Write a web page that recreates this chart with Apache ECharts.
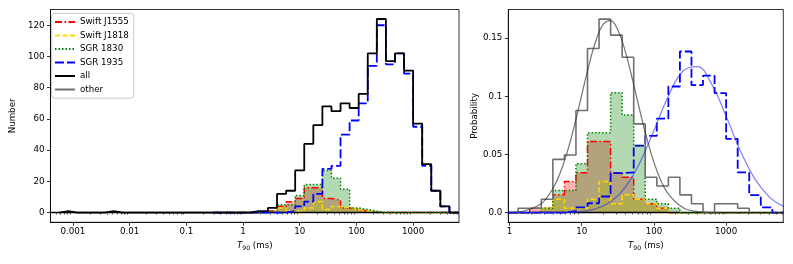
<!DOCTYPE html>
<html><head><meta charset="utf-8">
<script src="https://cdn.jsdelivr.net/npm/echarts@6/dist/echarts.min.js"></script>
<style>html,body{margin:0;padding:0;background:#fff}#c{width:793px;height:264px}</style>
</head><body><div id="c"></div>
<script>
// ---------- DATA ----------
// bin edges, log10(T90 / ms), "all" histogram (left panel)
const edgesAll = [-3.24,-3.08,-2.92,-2.76,-2.60,-2.44,-2.28,-2.12,-1.96,-1.80,-1.64,-1.48,-1.32,-1.16,-1.00,-0.84,-0.68,-0.52,-0.36,-0.20,-0.04,0.12,0.28,0.44,0.60,0.76,0.92,1.08,1.24,1.40,1.56,1.72,1.88,2.04,2.20,2.36,2.52,2.68,2.84,3.00,3.16,3.32,3.48,3.64,3.80];
const countsAll = [1,0,0,0,0,1,0,0,0,0,0,0,0,0,0,0,0,0,0,0,0,1,1,3,12,14,27,44,56,68,65,70,67,76,102,124,97,102,91,57,31,14,4,0];
// bin edges for the individual sources, log10(T90 / ms)
const edges = [-0.52,-0.36,-0.20,-0.04,0.12,0.28,0.44,0.60,0.76,0.92,1.08,1.24,1.40,1.56,1.72,1.88,2.04,2.20,2.36,2.52,2.68,2.84,3.00,3.16,3.32,3.48,3.64,3.80];
// left panel: numbers
const countsJ1555 = [0,0,0,0,0,1,1,4,7,9,16,16,9,8,3,2,1,0,0,0,0,0,0,0,0,0,0];
const countsJ1818 = [0,0,0,0,0,0,1,3,1,1,3,7,2,4,3,2,1,0,0,0,0,0,0,0,0,0,0];
const counts1830  = [0,0,0,0,0,0,1,5,5,11,18,18,27,22,15,3,2,1,0,0,0,0,0,0,0,0,0];
const counts1935  = [0,0,0,0,0,0,0,0,1,4,7,12,28,30,50,59,70,94,120,95,102,89,55,30,14,4,0];
// right panel: probabilities
const probJ1555 = [0,0,0,0,0,0.0038,0.0038,0.0153,0.0267,0.0344,0.0611,0.0611,0.0344,0.0305,0.0115,0.0076,0.0038,0,0,0,0,0,0,0,0,0,0];
const probJ1818 = [0,0,0,0,0,0,0.0038,0.0115,0.0038,0.0038,0.0115,0.0267,0.0076,0.0153,0.0115,0.0076,0.0038,0,0,0,0,0,0,0,0,0,0];
const prob1830  = [0,0,0,0,0,0,0.0038,0.0191,0.0191,0.0420,0.0687,0.0687,0.1031,0.0840,0.0573,0.0115,0.0076,0.0038,0,0,0,0,0,0,0,0,0];
const prob1935  = [0,0,0,0,0,0,0,0,0.0012,0.0046,0.0081,0.0139,0.0340,0.0346,0.0577,0.0660,0.0808,0.1085,0.1386,0.1097,0.1178,0.1028,0.0635,0.0346,0.0150,0.0046,0];
const probOther = [null,null,null,null,0.0038,0.0038,0.0115,0.0458,0.0496,0.0878,0.1412,0.1664,0.1527,0.1336,0.0763,0.0305,0.0229,0.0305,0.0153,0.0076,0,0.0076,0.0076,0.0038,null,null,null];
// fitted curves (right panel), sampled: log10(T90) and probability
const fitOtherX = [0.0,0.2,0.4,0.5,0.6,0.7,0.8,0.9,1.0,1.1,1.2,1.3,1.4,1.5,1.6,1.7,1.8,1.9,2.0,2.1,2.2,2.4,2.6,2.8,3.0,3.4,3.8];
const fitOtherY = [0.0002,0.0014,0.0061,0.0115,0.0205,0.0339,0.0522,0.0753,0.1012,0.1269,0.1485,0.1621,0.1652,0.1571,0.1394,0.1153,0.0890,0.0642,0.0432,0.0271,0.0159,0.0044,0.0009,0.0001,0,0,0];
const fit1935X = [0.0,0.2,0.4,0.6,0.8,1.0,1.2,1.4,1.6,1.8,2.0,2.2,2.4,2.6,2.8,3.0,3.2,3.4,3.6,3.8];
const fit1935Y = [0,0,0,0.0001,0.0003,0.0011,0.0035,0.0094,0.0216,0.0423,0.0706,0.1004,0.1216,0.1256,0.1105,0.0829,0.0529,0.0288,0.0134,0.0053];
// ticks
const leftXTicks = [-3,-2,-1,0,1,2,3];
const leftXTickLabels = ['0.001','0.01','0.1','1','10','100','1000'];
const rightXTicks = [0,1,2,3];
const rightXTickLabels = ['1','10','100','1000'];
const leftYTicks = [0,20,40,60,80,100,120];
const rightYTicks = [0,0.05,0.1,0.15];
const rightYTickLabels = ['0.0','0.05','0.1','0.15'];
const legendNames = ['Swift J1555','Swift J1818','SGR 1830','SGR 1935','all','other'];

// ---------- helpers ----------
function stepPts(ed, vals){
  let s = 0, e = vals.length - 1;
  while (vals[s] == null) s++;
  while (vals[e] == null) e--;
  const pts = [[ed[s], 0]];
  for (let i = s; i <= e; i++){ pts.push([ed[i], vals[i]]); pts.push([ed[i+1], vals[i]]); }
  pts.push([ed[e+1], 0]);
  return pts;
}
function minorTicks(lo, hi){
  const out = [];
  for (let n = -5; n <= 4; n++) for (let k = 2; k <= 9; k++){
    const v = Math.log10(k) + n; if (v > lo && v < hi) out.push(v);
  }
  return out;
}
const FONT = 'DejaVu Sans';
const FS = 8.7;
const L = {min:-3.395, max:3.809};
const R = {min:-0.017, max:3.792};

const C = {red:'#ff0000', gold:'#ffd700', green:'#008000', blue:'#0000ff', black:'#000000', grey:'#707070'};
const styles = {
  'Swift J1555': {color:C.red, type:[7,2.5,1.5,2.5], width:1.5, fill:true},
  'Swift J1818': {color:C.gold, type:[5,2.5], width:1.5, fill:true},
  'SGR 1830': {color:C.green, type:[1.5,2], width:1.5, fill:true},
  'SGR 1935': {color:C.blue, type:[9,3], width:1.8, fill:false},
  'all': {color:C.black, type:'solid', width:1.8, fill:false},
  'other': {color:C.grey, type:'solid', width:1.6, fill:false}
};
function histFill(name, ed, vals, gi, z){
  const st = styles[name];
  return {type:'line', name:name+' (fill)', xAxisIndex: gi*2, yAxisIndex: gi, data: stepPts(ed, vals),
    symbol:'none', showSymbol:false, z, silent:true,
    lineStyle:{width:0, opacity:0}, areaStyle:{color:st.color, opacity:0.3}};
}
function hist(name, ed, vals, gi, z){
  const st = styles[name];
  return {
    type:'line', name, xAxisIndex: gi*2, yAxisIndex: gi, data: stepPts(ed, vals),
    symbol:'none', showSymbol:false, z, silent:true,
    lineStyle:{color:st.color, type:st.type, width:st.width},
    itemStyle:{color:st.color}
  };
}
function curve(xs, ys, color, gi, z){
  return {type:'line', name:'fit'+z, xAxisIndex:gi*2, yAxisIndex:gi, data: xs.map((x,i)=>[x, ys[i]]),
    symbol:'none', smooth:0.4, silent:true, z, lineStyle:{color, width:1.2}};
}
function baseline(gi){
  return {type:'line', name:'base'+gi, xAxisIndex:gi*2, yAxisIndex:gi, data:[], z:1, silent:true,
    markLine:{silent:true, symbol:'none', label:{show:false}, data:[{yAxis:0}],
      lineStyle:{color:'#000', type:'solid', width:1.3}, animation:false}};
}
const rxName = {
  name:'{i|T}{s|90}{t| (ms)}', nameLocation:'middle', nameGap:17,
  nameTextStyle:{rich:{
    i:{fontFamily:FONT, fontSize:FS, fontStyle:'italic', color:'#000', verticalAlign:'top', lineHeight:12},
    s:{fontFamily:FONT, fontSize:6.2, color:'#000', verticalAlign:'top', lineHeight:12, padding:[4,0,0,0]},
    t:{fontFamily:FONT, fontSize:FS, color:'#000', verticalAlign:'top', lineHeight:12}
  }}
};
function xMajor(gi, r, ticks, labels){
  return Object.assign({
    type:'value', gridIndex:gi, min:r.min, max:r.max, position:'bottom',
    axisLine:{show:true, onZero:false, lineStyle:{color:'#000', width:0.8}},
    axisTick:{show:true, customValues:ticks, length:3.5, lineStyle:{color:'#000', width:0.8}},
    axisLabel:{show:true, customValues:ticks, margin:5, fontFamily:FONT, fontSize:FS, color:'#000',
      formatter:v=>labels[ticks.indexOf(Math.round(v))]},
    splitLine:{show:false}
  }, rxName);
}
function xMinor(gi, r){
  return {type:'value', gridIndex:gi, min:r.min, max:r.max, position:'bottom', offset:0,
    axisLine:{show:false}, axisLabel:{show:false}, splitLine:{show:false},
    axisTick:{show:true, customValues:minorTicks(r.min, r.max), length:2, lineStyle:{color:'#000', width:0.6}}};
}
function yAx(gi, min, max, ticks, fmt, name, gap){
  return {type:'value', gridIndex:gi, min, max, name, nameLocation:'middle', nameGap:gap,
    nameTextStyle:{fontFamily:FONT, fontSize:FS, color:'#000'},
    axisLine:{show:true, onZero:false, lineStyle:{color:'#000', width:0.8}},
    axisTick:{show:true, customValues:ticks, length:3.5, lineStyle:{color:'#000', width:0.8}},
    axisLabel:{show:true, customValues:ticks, margin:6, fontFamily:FONT, fontSize:FS, color:'#000', formatter:fmt},
    splitLine:{show:false}};
}

const series = [
  baseline(0), baseline(1),
  histFill('Swift J1555', edges, countsJ1555, 0, 2),
  histFill('Swift J1818', edges, countsJ1818, 0, 2),
  histFill('SGR 1830', edges, counts1830, 0, 2),
  hist('Swift J1555', edges, countsJ1555, 0, 3),
  hist('Swift J1818', edges, countsJ1818, 0, 4),
  hist('SGR 1830', edges, counts1830, 0, 5),
  hist('SGR 1935', edges, counts1935, 0, 6),
  hist('all', edgesAll, countsAll, 0, 7),
  histFill('Swift J1555', edges, probJ1555, 1, 2),
  histFill('Swift J1818', edges, probJ1818, 1, 2),
  histFill('SGR 1830', edges, prob1830, 1, 2),
  hist('Swift J1555', edges, probJ1555, 1, 3),
  hist('Swift J1818', edges, probJ1818, 1, 4),
  hist('SGR 1830', edges, prob1830, 1, 5),
  hist('SGR 1935', edges, prob1935, 1, 6),
  hist('other', edges, probOther, 1, 7),
  curve(fitOtherX, fitOtherY, 'rgba(40,40,40,0.65)', 1, 8),
  curve(fit1935X, fit1935Y, 'rgba(40,40,255,0.6)', 1, 9)
];

const chart = echarts.init(document.getElementById('c'), null, {renderer:'canvas'});
chart.setOption({
  animation:false,
  backgroundColor:'#fff',
  grid:[
    {left:46.7, top:9.5, width:412.3, height:212.8, show:true, borderColor:'#000', borderWidth:0.8, backgroundColor:'transparent'},
    {left:508.3, top:9.5, width:275, height:212.8, show:true, borderColor:'#000', borderWidth:0.8, backgroundColor:'transparent'}
  ],
  xAxis:[ xMajor(0, L, leftXTicks, leftXTickLabels), xMinor(0, L),
          xMajor(1, R, rightXTicks, rightXTickLabels), xMinor(1, R) ],
  yAxis:[ yAx(0, -6.2, 130.1, leftYTicks, v=>String(Math.round(v)), 'Number', 27),
          yAx(1, -0.0083, 0.1747, rightYTicks, v=>rightYTickLabels[rightYTicks.findIndex(t=>Math.abs(t-v)<1e-6)], 'Probability', 28) ],
  legend:{
    show:true, data:legendNames, orient:'vertical', left:51.7, top:13.3,
    itemWidth:20, itemHeight:10, itemGap:3.5, padding:[3.7,5,3.7,2.3],
    backgroundColor:'rgba(255,255,255,0.8)', borderColor:'#cccccc', borderWidth:1, borderRadius:3,
    itemStyle:{opacity:0},
    textStyle:{fontFamily:FONT, fontSize:FS, color:'#000', lineHeight:10},
    selectedMode:false
  },
  series
});
</script></body></html>
